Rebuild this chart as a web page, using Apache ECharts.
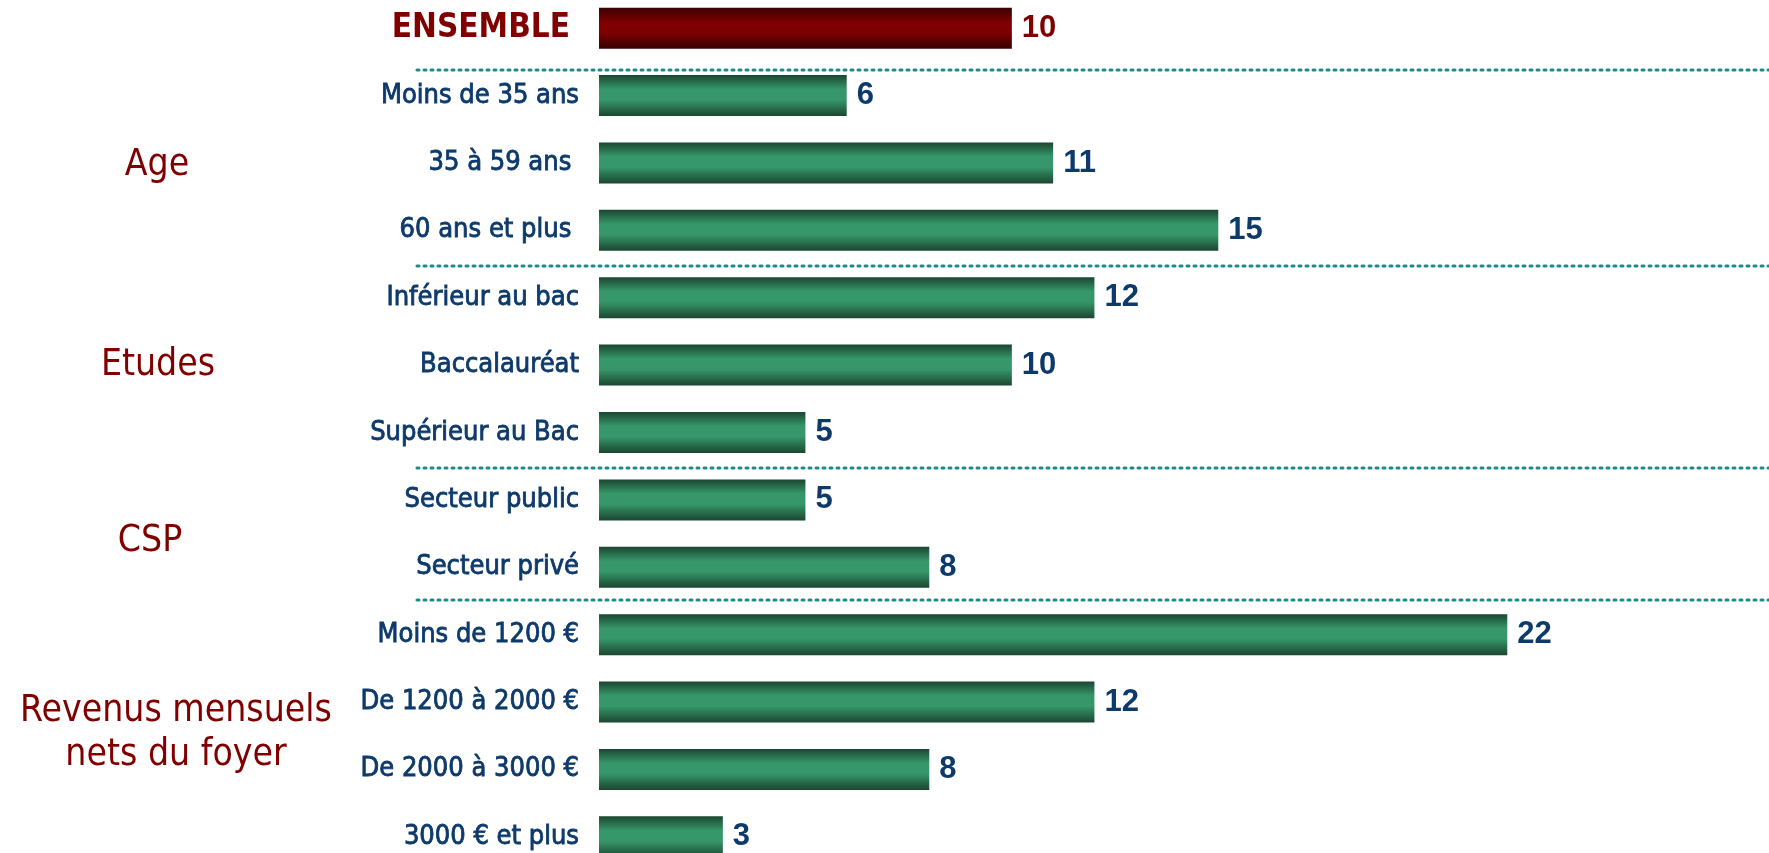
<!DOCTYPE html>
<html><head><meta charset="utf-8">
<script src="https://cdn.jsdelivr.net/npm/echarts@6/dist/echarts.min.js"></script>
<style>html,body{margin:0;padding:0;background:#fff;overflow:hidden}#c{width:1769px;height:853px}</style>
</head><body><div id="c"></div>
<script>
const categories = ['ENSEMBLE','Moins de 35 ans','35 à 59 ans ','60 ans et plus ','Inférieur au bac','Baccalauréat','Supérieur au Bac','Secteur public','Secteur privé','Moins de 1200 €','De 1200 à 2000 €','De 2000 à 3000 €','3000 € et plus'];
const values = [10,6,11,15,12,10,5,5,8,22,12,8,3];
const groupNames = ['Age','Etudes','CSP','Revenus mensuels\nnets du foyer'];
const groupFirstRow = [1,4,7,9];
const groupLastRow = [3,6,8,12];
const separatorAfterRow = [0,3,6,8];

const NAVY = '#0d3a6b';
const DARKRED = '#800000';
function grad(edge, mid){
  return new echarts.graphic.LinearGradient(0,0,0,1,[
    {offset:0,color:edge},{offset:0.35,color:mid},{offset:0.6,color:mid},{offset:1,color:edge}]);
}
const chart = echarts.init(document.getElementById('c'), null, {renderer:'canvas'});
const data = values.map((v,i)=>({
  value:v,
  itemStyle:{color: i===0 ? grad('#3a0000','#7e0000') : grad('#1b4631','#36986a')},
  label:{color: i===0 ? DARKRED : NAVY}
}));
chart.setOption({
  animation:false,
  grid:{left:599, right:14, top:-5.5, height:876, containLabel:false, outerBoundsMode:'none'},
  xAxis:{type:'value', min:0, max:28, show:false},
  yAxis:{type:'category', data:categories, inverse:true,
    axisLine:{show:false}, axisTick:{show:false}, splitLine:{show:false},
    axisLabel:{margin:20, formatter:(v,i)=> i===0 ? '{tot|'+v+'}' : '{cat|'+v+'}',
      rich:{
        cat:{fontFamily:'DejaVu Sans Condensed', fontSize:27, color:NAVY, textBorderColor:NAVY, textBorderWidth:0.8},
        tot:{fontFamily:'DejaVu Sans Condensed', fontWeight:'bold', fontSize:33, color:DARKRED, padding:[0,9,0,0]}
      }}},
  series:[{type:'bar', data:data, barWidth:41,
    label:{show:true, position:'right', distance:10, fontFamily:'Liberation Sans', fontWeight:'bold', fontSize:31}}]
});
const g = [];
const rowY = i => chart.convertToPixel({yAxisIndex:0}, i);
const sepShift = [8,2,2,-1];
separatorAfterRow.forEach((r,k)=>{
  const y = Math.round((rowY(r)+rowY(r+1))/2) + sepShift[k];
  g.push({type:'line', shape:{x1:417,y1:y,x2:1769,y2:y},
    style:{stroke:'#1a8a8a', lineWidth:3, lineDash:[2,5], lineCap:'round'}});
});
const groupCenterX = [157,158,150,176];
const groupShiftY = [2,0,8,-2];
groupNames.forEach((name,k)=>{
  const y = (rowY(groupFirstRow[k])+rowY(groupLastRow[k]))/2 + groupShiftY[k];
  g.push({type:'text', x:groupCenterX[k], y:y,
    style:{text:name, fill:DARKRED, font:'37px "DejaVu Sans Condensed"', align:'center', verticalAlign:'middle', lineHeight:44}});
});
chart.setOption({graphic:g});
</script></body></html>
